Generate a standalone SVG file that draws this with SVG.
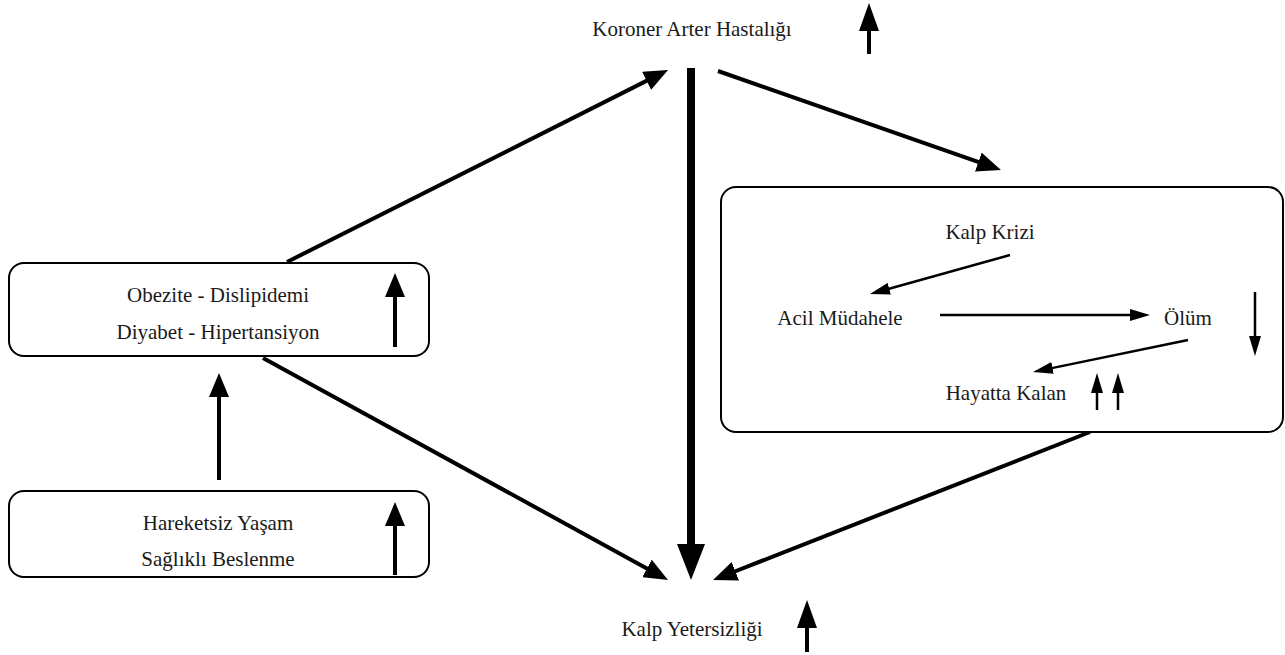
<svg xmlns="http://www.w3.org/2000/svg" width="1285" height="655" viewBox="0 0 1285 655">
<style>
text{font-family:"Liberation Serif","DejaVu Serif",serif;font-size:21px;fill:#1a1a1a;text-anchor:middle}
.box{fill:#fff;stroke:#000;stroke-width:2}
.c{stroke:#000;stroke-width:4;fill:none}
.thick{stroke:#000;stroke-width:8;fill:none}
.thin{stroke:#000;stroke-width:2.5;fill:none}
</style>
<defs>
<marker id="ah" markerUnits="userSpaceOnUse" markerWidth="24" markerHeight="20" refX="2" refY="10" orient="auto"><path d="M0,0 L24,10 L0,20 Z" fill="#000"/></marker>
<marker id="ahL" markerUnits="userSpaceOnUse" markerWidth="28" markerHeight="20" refX="2" refY="10" orient="auto"><path d="M0,0 L28,10 L0,20 Z" fill="#000"/></marker>
<marker id="ahT" markerUnits="userSpaceOnUse" markerWidth="36" markerHeight="28" refX="2" refY="14" orient="auto"><path d="M0,0 L36,14 L0,28 Z" fill="#000"/></marker>
<marker id="ahS" markerUnits="userSpaceOnUse" markerWidth="20" markerHeight="12" refX="2" refY="6" orient="auto"><path d="M0,0 L20,6 L0,12 Z" fill="#000"/></marker>
</defs>
<rect width="1285" height="655" fill="#fff"/>
<g id="connectors">
<line class="c" x1="287" y1="262" x2="648.4" y2="79.9" marker-end="url(#ah)"/>
<line class="c" x1="718" y1="71" x2="980.2" y2="162.7" marker-end="url(#ah)"/>
<line class="c" x1="263" y1="358" x2="648.7" y2="569.4" marker-end="url(#ah)"/>
<line class="c" x1="1090" y1="432" x2="733.5" y2="572" marker-end="url(#ah)"/>
<line class="thick" x1="691" y1="68" x2="691" y2="546" marker-end="url(#ahT)"/>
<line class="c" x1="219" y1="480" x2="219" y2="395" marker-end="url(#ah)"/>
</g>
<g id="box-risk">
<rect class="box" x="9" y="263" width="420" height="93" rx="15"/>
<text x="218" y="302">Obezite - Dislipidemi</text>
<text x="218" y="339">Diyabet - Hipertansiyon</text>
<line class="c" x1="395" y1="347" x2="395" y2="295" marker-end="url(#ah)"/>
</g>
<g id="box-life">
<rect class="box" x="9" y="491" width="420" height="86" rx="15"/>
<text x="218" y="530">Hareketsiz Yaşam</text>
<text x="218" y="566">Sağlıklı Beslenme</text>
<line class="c" x1="395" y1="575" x2="395" y2="524" marker-end="url(#ah)"/>
</g>
<g id="node-kah">
<text x="692" y="36">Koroner Arter Hastalığı</text>
<line class="c" x1="869" y1="54" x2="869" y2="29" marker-end="url(#ahL)"/>
</g>
<g id="node-ky">
<text x="692" y="636">Kalp Yetersizliği</text>
<line class="c" x1="807" y1="652" x2="807" y2="626" marker-end="url(#ahL)"/>
</g>
<g id="box-attack">
<rect class="box" x="721" y="187" width="562" height="245" rx="15"/>
<text x="990" y="239">Kalp Krizi</text>
<text x="840" y="325">Acil Müdahele</text>
<text x="1188" y="325">Ölüm</text>
<text x="1006" y="400">Hayatta Kalan</text>
<g id="inner-connectors">
<line class="thin" x1="1010" y1="255" x2="887.3" y2="289.2" marker-end="url(#ahS)"/>
<line class="thin" x1="940" y1="315" x2="1132" y2="315" marker-end="url(#ahS)"/>
<line class="thin" x1="1188" y1="340" x2="1050.6" y2="368.4" marker-end="url(#ahS)"/>
<line class="thin" x1="1097" y1="410" x2="1097" y2="391" marker-end="url(#ahS)"/>
<line class="thin" x1="1118" y1="410" x2="1118" y2="391" marker-end="url(#ahS)"/>
<line class="thin" x1="1255" y1="292" x2="1255" y2="338" marker-end="url(#ahS)"/>
</g>
</g>
</svg>
